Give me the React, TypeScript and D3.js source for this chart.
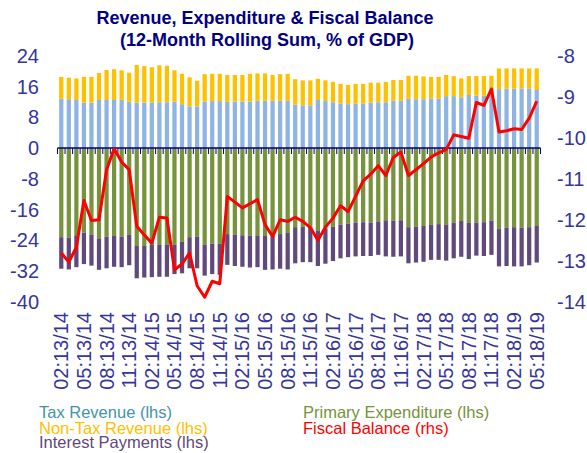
import React from "react";
import * as d3 from "d3";

const taxRevenue = [12.8,12.7,12.5,11.8,11.8,12.5,12.5,12.5,12.5,12.0,11.8,11.8,11.8,11.9,11.9,12.1,11.4,10.8,10.8,12.1,12.2,12.2,12.0,12.1,12.1,12.1,12.3,12.3,12.3,12.3,12.3,11.3,11.1,11.1,12.5,12.2,11.9,11.6,11.4,11.5,11.5,11.8,11.9,11.9,12.3,12.3,12.8,12.7,12.7,12.8,12.8,13.5,13.5,13.2,13.8,13.6,13.6,13.8,15.3,15.4,15.4,15.5,15.5,15.1];
const nonTaxRevenue = [5.7,5.6,5.6,6.7,6.7,7.0,7.8,8.0,7.7,7.6,9.8,9.5,9.2,9.6,9.5,8.1,7.9,7.6,6.7,7.1,7.1,7.1,7.0,6.9,6.9,7.2,7.1,7.1,6.7,6.9,7.0,6.6,6.5,6.5,5.5,5.4,5.3,5.1,5.0,5.2,5.2,5.2,5.1,5.3,5.4,5.4,6.0,6.1,5.9,5.7,5.7,5.5,5.2,4.9,4.9,5.1,5.1,5.0,5.4,5.3,5.3,5.2,5.2,5.6];
const primaryExpenditure = [-23.2,-23.3,-22.9,-22.0,-22.5,-23.5,-23.1,-22.9,-23.1,-22.6,-25.5,-25.5,-25.2,-25.2,-25.2,-25.2,-24.4,-23.2,-23.1,-25.2,-24.9,-24.9,-22.4,-22.6,-22.7,-22.8,-22.9,-22.9,-22.9,-22.4,-22.1,-20.6,-20.5,-20.5,-21.6,-20.9,-20.5,-19.9,-19.7,-19.4,-19.3,-19.4,-19.1,-18.8,-18.9,-18.8,-20.6,-20.5,-20.3,-19.9,-19.8,-20.0,-19.4,-19.0,-19.5,-19.4,-19.3,-18.9,-21.1,-20.7,-20.6,-20.7,-20.6,-20.3];
const interestPayments = [-8.2,-8.3,-8.1,-8.2,-8.1,-8.2,-8.2,-8.0,-7.9,-7.9,-8.4,-8.2,-8.4,-8.3,-8.3,-7.6,-8.2,-8.1,-8.2,-8.0,-7.9,-8.1,-8.0,-8.1,-8.2,-8.3,-8.1,-8.8,-8.7,-9.0,-9.5,-9.4,-9.2,-9.2,-9.1,-9.2,-8.9,-8.8,-8.7,-8.8,-8.8,-8.7,-8.7,-9.4,-9.4,-9.4,-9.4,-9.3,-9.3,-9.2,-9.3,-9.3,-9.3,-9.3,-9.4,-8.6,-8.8,-8.9,-9.7,-10.0,-10.2,-10.1,-9.9,-9.5];
const fiscalBalance = [-12.81,-13.03,-12.67,-11.53,-12.02,-12.0,-10.78,-10.27,-10.59,-10.78,-12.16,-12.37,-12.57,-11.94,-11.96,-13.22,-13.08,-12.81,-13.61,-13.89,-13.5,-13.56,-11.43,-11.57,-11.71,-11.61,-11.51,-12.12,-12.41,-12.0,-12.04,-11.94,-12.04,-12.19,-12.5,-12.18,-11.96,-11.66,-11.8,-11.43,-11.05,-10.89,-10.68,-10.92,-10.48,-10.35,-10.92,-10.78,-10.63,-10.47,-10.37,-10.29,-9.93,-9.97,-10.01,-9.14,-9.21,-8.81,-9.86,-9.83,-9.78,-9.8,-9.52,-9.11];
const tickLabels = ["02:13/14","05:13/14","08:13/14","11:13/14","02:14/15","05:14/15","08:14/15","11:14/15","02:15/16","05:15/16","08:15/16","11:15/16","02:16/17","05:16/17","08:16/17","11:16/17","02:17/18","05:17/18","08:17/18","11:17/18","02:18/19","05:18/19"];
const leftTicks = [24,16,8,0,-8,-16,-24,-32,-40];
const rightTicks = [-8,-9,-10,-11,-12,-13,-14];

const W = 587, H = 453;
const AX = "#35359A";
const FONT = "'Liberation Sans', Arial, sans-serif";

export default function App() {
  const idx = d3.range(taxRevenue.length);
  const x = d3.scaleBand<number>().domain(idx).range([57.5, 540.5]).paddingInner(0.44).paddingOuter(0.22);
  const xb = d3.scaleBand<number>().domain(idx).range([57.5, 540.5]);
  const yL = d3.scaleLinear().domain([-40, 24]).range([301.75, 55.75]);
  const yR = d3.scaleLinear().domain([-14, -8]).range([301.75, 55.75]);
  const bw = x.bandwidth();
  const line = d3.line<number>().x((d, i) => (xb(i) as number) + xb.bandwidth() / 2).y(d => yR(d));
  const y0 = yL(0);

  return (
    <svg width={W} height={H} style={{ position: "absolute", left: 0, top: 0, fontFamily: FONT }}>
      <rect width={W} height={H} fill="#fff" />
      <text x={265} y={24} textAnchor="middle" fontWeight="bold" fontSize={18} fill="#000080">Revenue, Expenditure &amp; Fiscal Balance</text>
      <text x={267} y={46} textAnchor="middle" fontWeight="bold" fontSize={18} fill="#000080">(12-Month Rolling Sum, % of GDP)</text>

      {leftTicks.map(t => (
        <text key={"l" + t} x={39} y={yL(t)} dy="0.35em" textAnchor="end" fontSize={20} fill={AX}>{t}</text>
      ))}
      {rightTicks.map(t => (
        <text key={"r" + t} x={557} y={yR(t)} dy="0.35em" textAnchor="start" fontSize={20} fill={AX}>{t}</text>
      ))}

      {idx.map(i => {
        const bx = x(i) as number;
        const tax = taxRevenue[i], nt = nonTaxRevenue[i], pe = primaryExpenditure[i], ip = interestPayments[i];
        return (
          <g key={"b" + i}>
            <rect x={bx} width={bw} y={yL(tax)} height={y0 - yL(tax)} fill="#8DB4E2" />
            <rect x={bx} width={bw} y={yL(tax + nt)} height={yL(tax) - yL(tax + nt)} fill="#FFC000" />
            <rect x={bx} width={bw} y={y0} height={yL(pe) - y0} fill="#77933C" />
            <rect x={bx} width={bw} y={yL(pe)} height={yL(pe + ip) - yL(pe)} fill="#604A7B" />
          </g>
        );
      })}

      <line x1={57.5} x2={540.5} y1={y0} y2={y0} stroke="#000080" strokeWidth={1.5} />
      {d3.range(taxRevenue.length + 1).map(i => {
        const tx = 57.5 + i * xb.bandwidth();
        return <line key={"t" + i} x1={tx} x2={tx} y1={y0} y2={y0 + 6} stroke="#000080" strokeWidth={1} />;
      })}

      <path d={line(fiscalBalance) || ""} fill="none" stroke="#FF0000" strokeWidth={3} strokeLinejoin="round" />

      {tickLabels.map((lab, k) => {
        const cx = (xb(k * 3) as number) + xb.bandwidth() / 2;
        return (
          <text key={"x" + k} transform={`translate(${cx},312) rotate(-90)`} dy="0.35em" textAnchor="end" fontSize={20} fill={AX}>{lab}</text>
        );
      })}

      <g fontSize={16.5}>
        <text x={39} y={418} fill="#4593A8">Tax Revenue (lhs)</text>
        <text x={39} y={434} fill="#FFC000">Non-Tax Revenue (lhs)</text>
        <text x={39} y={448} fill="#5F497A">Interest Payments (lhs)</text>
        <text x={303} y={418} fill="#77933C">Primary Expenditure (lhs)</text>
        <text x={303} y={434} fill="#FF0000">Fiscal Balance (rhs)</text>
      </g>
    </svg>
  );
}
